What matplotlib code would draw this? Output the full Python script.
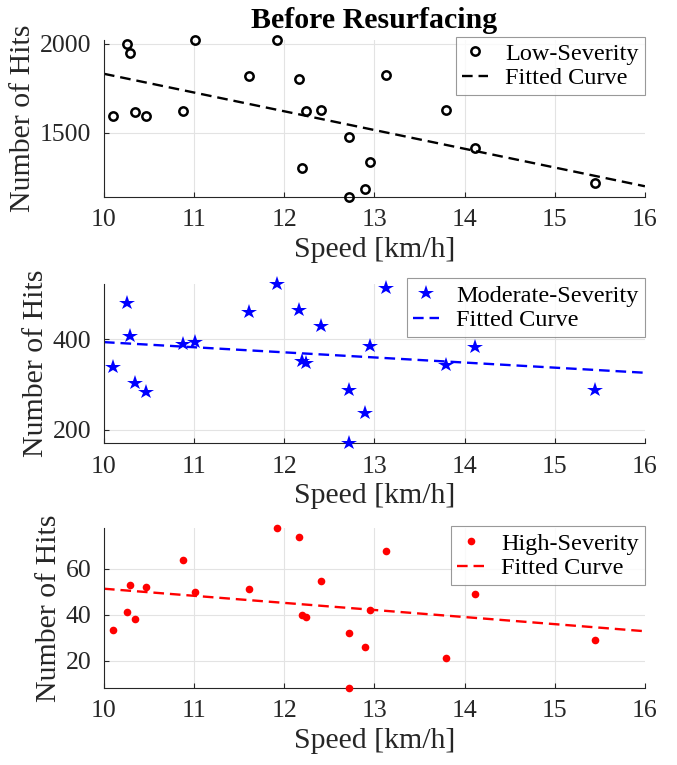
import numpy as np
import matplotlib
matplotlib.use("Agg")
import matplotlib.pyplot as plt

# speeds shared by all three panels [km/h]
speed = [10.10, 10.25, 10.29, 10.34, 10.47, 10.88, 11.01, 11.61, 11.92, 12.16, 12.20,
         12.24, 12.41, 12.72, 12.72, 12.90, 12.95, 13.13, 13.79, 14.12, 15.45]

hits_low = [1597, 2000, 1950, 1618, 1597, 1621, 2020, 1818, 2020, 1801, 1303,
            1621, 1627, 1480, 1142, 1188, 1340, 1825, 1629, 1415, 1221]
hits_mod = [339, 481, 407, 303, 283, 389, 394, 461, 523, 466, 352,
            348, 430, 287, 170, 237, 385, 514, 344, 383, 287]
hits_high = [33.2, 41.0, 52.8, 38.0, 51.9, 63.8, 50.0, 51.0, 77.7, 73.8, 40.0,
             39.0, 54.8, 32.0, 8.1, 25.9, 42.0, 67.8, 21.2, 49.1, 29.1]

# fitted lines, read at the two ends of the speed axis
fit_x = [10, 16]
fit_low = [1831, 1202]
fit_mod = [394, 326]
fit_high = [51.3, 32.8]

labels = ["Low-Severity", "Moderate-Severity", "High-Severity"]
yticks = [[1500, 2000], [200, 400], [20, 40, 60]]

plt.rcParams['font.family'] = ['Liberation Serif', 'DejaVu Serif']
plt.rcParams['axes.linewidth'] = 0.8

gray = '#262626'
fig = plt.figure(figsize=(6.77, 7.65), dpi=100)
rects = [[0.1536, 0.7425, 0.799, 0.2052],
         [0.1536, 0.4209, 0.799, 0.2078],
         [0.1536, 0.1007, 0.799, 0.2090]]

series = [(hits_low, fit_low, 'k', dict(marker='o', ms=6, mfc='none', mew=1.8)),
          (hits_mod, fit_mod, 'b', dict(marker='*', ms=11.5, mew=0)),
          (hits_high, fit_high, 'r', dict(marker='o', ms=5.5, mew=0))]
leg_anchor = [(1.0, 1.02), (1.0, 1.035), (1.0, 1.01)]

for i, (hits, fit, col, mk) in enumerate(series):
    ax = fig.add_axes(rects[i])
    ax.plot(speed, hits, ls='none', color=col, label=labels[i], clip_on=False, zorder=3, **mk)
    ax.plot(fit_x, fit, ls='--', color=col, lw=1.7, dashes=(4.5, 2.5), label='Fitted Curve', zorder=2)
    ax.set_xlim(10, 16)
    ax.set_ylim(min(hits), max(hits))
    ax.set_xticks(range(10, 17))
    ax.set_yticks(yticks[i])
    ax.grid(True, color='#e3e3e3', lw=0.8)
    ax.set_axisbelow(True)
    for s in ['top', 'right']:
        ax.spines[s].set_visible(False)
    for s in ['left', 'bottom']:
        ax.spines[s].set_color(gray)
    ax.tick_params(direction='in', length=3.6, width=0.8, color=gray, labelcolor=gray,
                   labelsize=18.5, pad=9)
    ax.get_xgridlines()[-1].set_visible(False)
    ax.set_xlabel('Speed [km/h]', fontsize=21.5, color=gray, labelpad=4)
    ax.set_ylabel('Number of Hits', fontsize=21.5, color=gray, labelpad=3)
    leg = ax.legend(loc='upper right', bbox_to_anchor=leg_anchor[i], fontsize=17.5,
                    frameon=True, fancybox=False, borderpad=0.25, labelspacing=0.1,
                    handlelength=1.1, handletextpad=0.7, borderaxespad=0)
    leg.get_frame().set_edgecolor('#808080')
    leg.get_frame().set_linewidth(0.8)
    if i == 0:
        ax.set_title('Before Resurfacing', fontsize=21.5, fontweight='bold', pad=9)

fig.savefig('out.png', dpi=100)
